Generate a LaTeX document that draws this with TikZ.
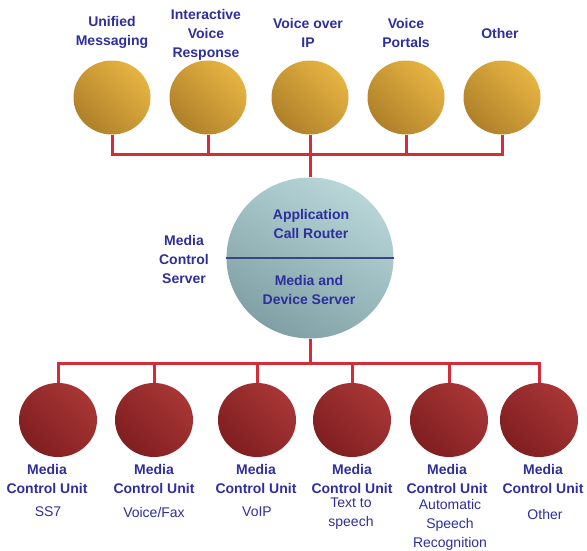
\documentclass[tikz,border=0pt]{standalone}
\usepackage{fontspec}
\setmainfont{Liberation Sans}
\usetikzlibrary{shapes.geometric}
\definecolor{textblue}{RGB}{46,46,158}
\definecolor{busred}{RGB}{212,44,56}
\definecolor{goldlight}{RGB}{230,180,66}
\definecolor{golddark}{RGB}{176,128,42}
\definecolor{redlight}{RGB}{168,54,54}
\definecolor{reddark}{RGB}{128,30,32}
\definecolor{teallight}{RGB}{184,214,216}
\definecolor{tealdark}{RGB}{128,160,165}
\definecolor{divblue}{RGB}{58,70,132}
\begin{document}
\begin{tikzpicture}[x=1pt,y=-1pt,
  txt/.style={align=center,text=textblue,font=\fontsize{14}{19}\selectfont,inner sep=0pt},
  btxt/.style={txt,font=\fontsize{14}{19}\selectfont\bfseries},
  goldball/.style={ellipse,inner sep=0pt,minimum width=77pt,minimum height=74pt,
    top color=goldlight,bottom color=golddark,shading angle=-45},
  redball/.style={ellipse,inner sep=0pt,minimum width=78pt,minimum height=74pt,
    top color=redlight,bottom color=reddark,shading angle=-45},
  tealball/.style={ellipse,inner sep=0pt,minimum width=167pt,minimum height=161pt,
    top color=teallight,bottom color=tealdark,shading angle=-30},
  bus/.style={draw=busred,line width=3pt}]
\useasboundingbox (0,0) rectangle (587,550);

% top application balls
\node[goldball] (t1) at (112,97.5) {};
\node[goldball] (t2) at (208,97.5) {};
\node[goldball] (t3) at (310,97.5) {};
\node[goldball] (t4) at (406,97.5) {};
\node[goldball] (t5) at (502,97.5) {};

\node[btxt] (l1) at (112,32.5) {Unified\\Messaging};
\node[btxt] (l2) at (206,34.5) {Interactive\\Voice\\Response};
\node[btxt] (l3) at (308,32.5) {Voice over\\IP};
\node[btxt] (l4) at (406,32.5) {Voice\\Portals};
\node[btxt] (l5) at (500,33) {Other};

% central server
\node[tealball] (srv) at (310,258) {};
\draw[divblue,line width=2.4pt] (srv.west) -- (srv.east);
\node[btxt] (s1) at (311,224) {Application\\Call Router};
\node[btxt] (s2) at (309,290) {Media and\\Device Server};
\node[btxt] (ms) at (184,259) {Media\\Control\\Server};

% bottom media control units
\node[redball] (b1) at (58,420) {};
\node[redball] (b2) at (154,420) {};
\node[redball] (b3) at (257,420) {};
\node[redball] (b4) at (352,420) {};
\node[redball] (b5) at (449,420) {};
\node[redball] (b6) at (539,420) {};

\node[btxt] (u1) at (47,478.5) {Media\\Control Unit};
\node[btxt] (u2) at (154,478.5) {Media\\Control Unit};
\node[btxt] (u3) at (256,478.5) {Media\\Control Unit};
\node[btxt] (u4) at (352,478.5) {Media\\Control Unit};
\node[btxt] (u5) at (447,478.5) {Media\\Control Unit};
\node[btxt] (u6) at (543,478.5) {Media\\Control Unit};

\node[txt] (d1) at (48,512) {SS7};
\node[txt] (d2) at (154,512) {Voice/Fax};
\node[txt] (d3) at (257,512) {VoIP};
\node[txt] (d4) at (351,513.5) {Text to\\speech};
\node[txt] (d5) at (450,524.5) {Automatic\\Speech\\Recognition};
\node[txt] (d6) at (545,514) {Other};

% buses
\coordinate (topbus) at (310,154.5);
\coordinate (botbus) at (310,363);
\foreach \n in {t1,t2,t3,t4,t5} \draw[bus] (\n.south) |- (topbus);
\draw[bus] (topbus) -- (srv.north);
\draw[bus] (srv.south) -- (botbus);
\foreach \n in {b1,b2,b3,b4,b5,b6} \draw[bus] (\n.north) |- (botbus);
\end{tikzpicture}
\end{document}
